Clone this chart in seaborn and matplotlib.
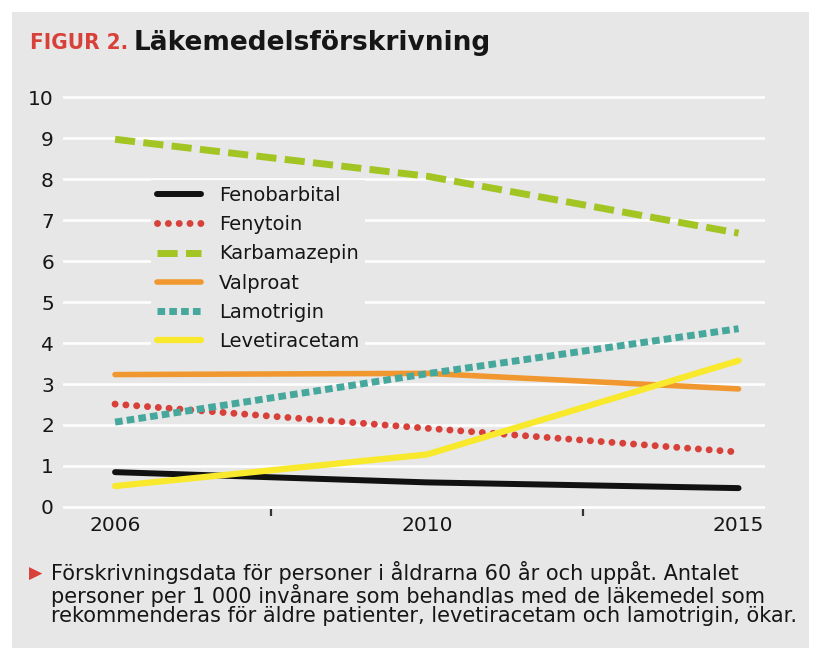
import numpy as np
import matplotlib
matplotlib.use('Agg')
import matplotlib.pyplot as plt
import seaborn as sns
import pandas as pd

# data (personer per 1000 invånare)
years = ['2006', '2010', '2015']
tick_labels = ['2006', '', '2010', '', '2015']
fenobarbital = [0.85, 0.60, 0.46]
fenytoin = [2.51, 1.92, 1.34]
karbamazepin = [8.97, 8.07, 6.68]
valproat = [3.23, 3.26, 2.88]
lamotrigin = [2.07, 3.25, 4.35]
levetiracetam = [0.51, 1.28, 3.57]

series = {
    'Fenobarbital': fenobarbital,
    'Fenytoin': fenytoin,
    'Karbamazepin': karbamazepin,
    'Valproat': valproat,
    'Lamotrigin': lamotrigin,
    'Levetiracetam': levetiracetam,
}

styles = {
    'Fenobarbital': dict(color='#111111', linewidth=4.3, linestyle='-'),
    'Fenytoin': dict(color='#d8413a', linewidth=5.0, linestyle=(0, (0.01, 1.55)),
                     dash_capstyle='round'),
    'Karbamazepin': dict(color='#a2c523', linewidth=5.0, linestyle=(0, (2.9, 1.2))),
    'Valproat': dict(color='#f0982f', linewidth=4.0, linestyle='-'),
    'Lamotrigin': dict(color='#46a89c', linewidth=5.0, linestyle=(0, (1.1, 0.6))),
    'Levetiracetam': dict(color='#f8e92c', linewidth=4.5, linestyle='-'),
}

rows = []
for name, vals in series.items():
    for yr, v in zip(years, vals):
        rows.append({'drug': name, 'pos': tick_labels.index(yr), 'value': v})
df = pd.DataFrame(rows)

bg = '#e7e7e7'
ink = '#161616'
sns.set_style('white')
plt.rcParams['font.family'] = ['DejaVu Sans']

fig = plt.figure(figsize=(8.15, 6.58), dpi=100)
fig.patch.set_facecolor('white')
fig.patches.append(plt.Rectangle((12 / 815, 10 / 658), 797 / 815, 636 / 658,
                                 transform=fig.transFigure, facecolor=bg,
                                 edgecolor='none', zorder=-10))

ax = fig.add_axes([0.0773, 0.2264, 0.8614, 0.6292])
ax.set_facecolor(bg)

for name in series:
    sns.lineplot(x='pos', y='value', data=df[df['drug'] == name], ax=ax,
                 label=name, zorder=3, **styles[name])

ax.set_xlim(-0.334, 4.17)
ax.set_ylim(-0.05, 10.05)
ax.set_yticks(np.arange(0, 11, 1))
ax.grid(axis='y', color='white', linewidth=1.8)
ax.set_axisbelow(True)
for s in ax.spines.values():
    s.set_visible(False)

ax.set_xticks([i for i, t in enumerate(tick_labels) if t])
ax.set_xticklabels([t for t in tick_labels if t])
ax.set_xticks([i for i, t in enumerate(tick_labels) if not t], minor=True)
ax.tick_params(axis='x', which='major', bottom=True, length=0, pad=5,
               labelsize=14.5, labelcolor=ink)
ax.tick_params(axis='x', which='minor', bottom=True, length=5, width=1.6,
               color='#333333', direction='out')
ax.tick_params(axis='y', left=True, length=0, pad=6.5, labelsize=14.5,
               labelcolor=ink)
ax.set_xlabel('')
ax.set_ylabel('')

leg = ax.legend(loc='upper left', bbox_to_anchor=(0.125, 0.795), frameon=True,
                facecolor=bg, edgecolor='none', framealpha=1, fontsize=14,
                handlelength=2.3, handletextpad=0.9, labelspacing=0.53,
                borderpad=0.3, borderaxespad=0, fancybox=False)
for t in leg.get_texts():
    t.set_color(ink)

fig.text(30 / 815, 1 - 43 / 658, 'FIGUR 2.', color='#d8413a', fontsize=16,
         fontweight='bold', fontstretch='condensed', va='center', ha='left')
fig.text(134 / 815, 1 - 43 / 658, 'Läkemedelsförskrivning', color=ink,
         fontsize=19, fontweight='bold', va='center', ha='left')

fig.text(29 / 815, 1 - 574 / 658, '▶', color='#d8413a', fontsize=12.5,
         va='center', ha='left')
caption = ('Förskrivningsdata för personer i åldrarna 60 år och uppåt. Antalet\n'
           'personer per 1 000 invånare som behandlas med de läkemedel som\n'
           'rekommenderas för äldre patienter, levetiracetam och lamotrigin, ökar.')
fig.text(51 / 815, 1 - 561 / 658, caption, color=ink, fontsize=15,
         va='top', ha='left', linespacing=0.98)

plt.savefig('out.png', dpi=100)
